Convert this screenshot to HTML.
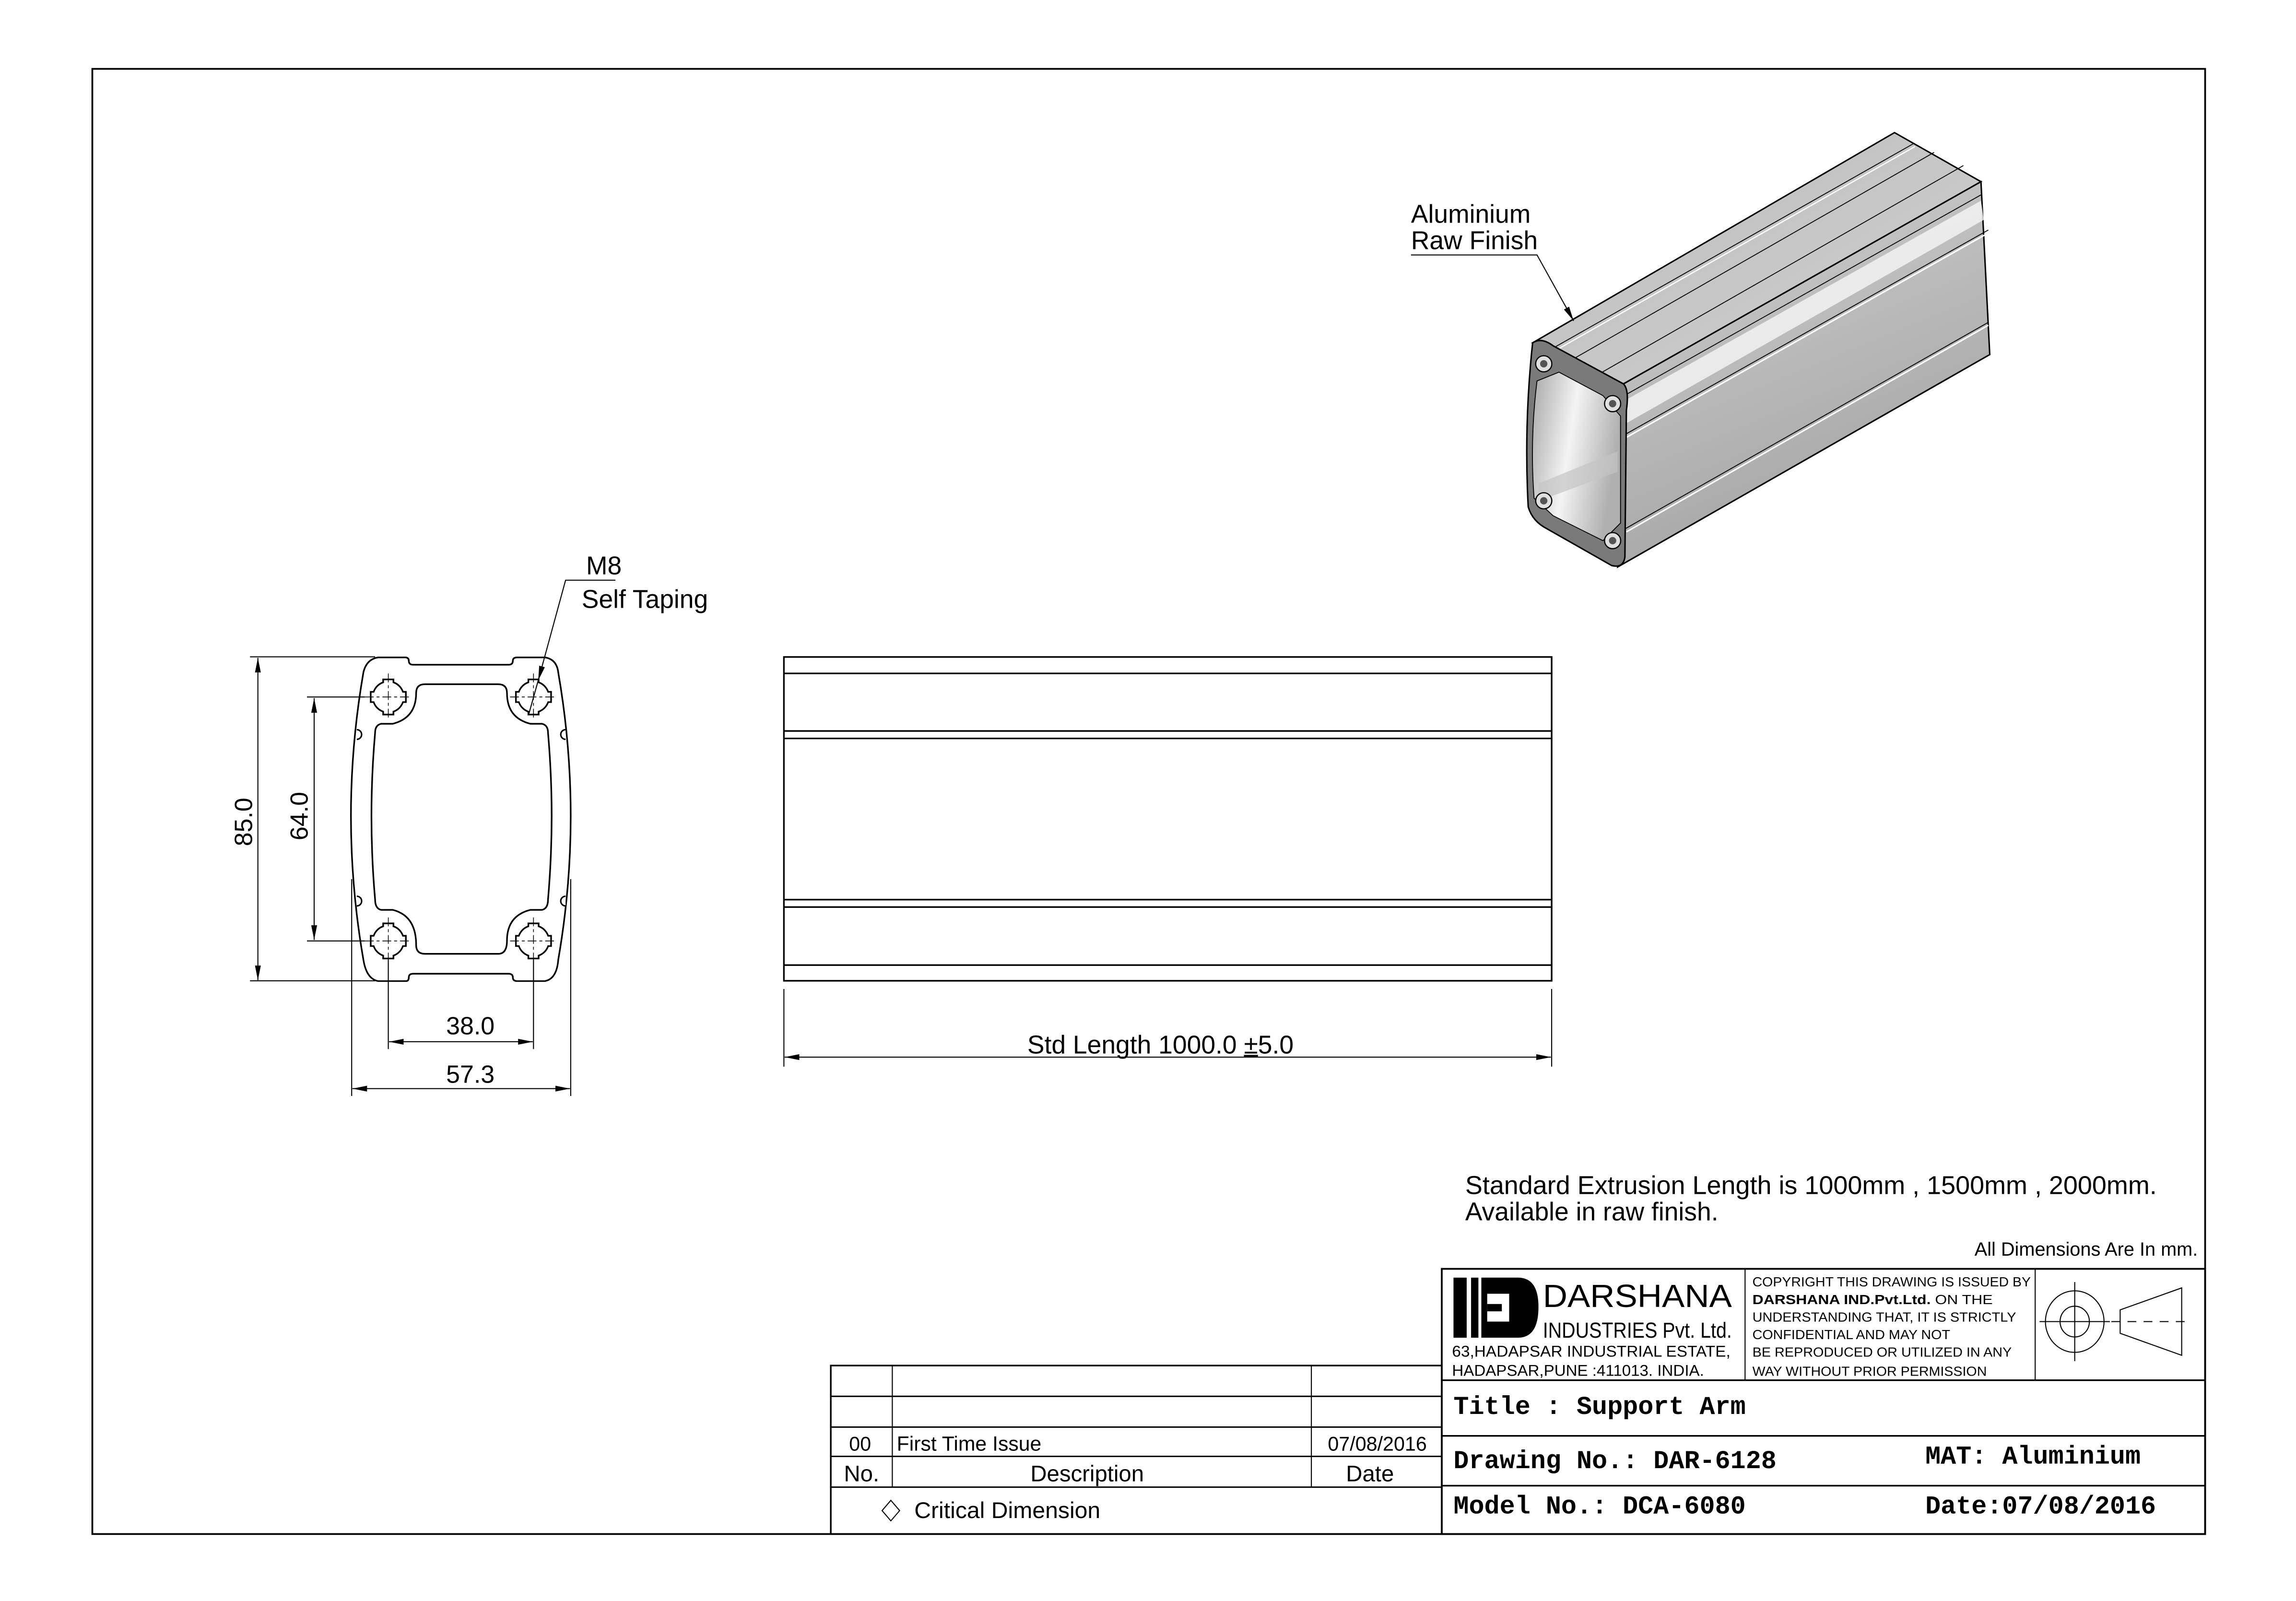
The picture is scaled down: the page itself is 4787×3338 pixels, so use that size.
<!DOCTYPE html>
<html><head><meta charset="utf-8"><style>
html,body{margin:0;padding:0;background:#fff}
svg{display:block}
text{font-family:"Liberation Sans",Arial,sans-serif;fill:#000}
.m{font-family:"Liberation Mono","DejaVu Sans Mono",monospace;font-weight:bold}
</style></head><body>
<svg width="4787" height="3338" viewBox="0 0 1567 1092.7" xmlns="http://www.w3.org/2000/svg">
<defs>
<marker id="ar" viewBox="0 0 10 4" refX="10" refY="2" markerWidth="10" markerHeight="4" markerUnits="userSpaceOnUse" orient="auto-start-reverse"><path d="M0,0 L10,2 L0,4 Z" fill="#000"/></marker>
<linearGradient id="gt" x1="0" y1="0" x2="1" y2="1"><stop offset="0" stop-color="#bdbdbd"/><stop offset="1" stop-color="#cfcfcf"/></linearGradient>
<linearGradient id="gs" x1="0" y1="0" x2="0.4" y2="1"><stop offset="0" stop-color="#d2d2d2"/><stop offset="1" stop-color="#a4a4a4"/></linearGradient>
<linearGradient id="gc" x1="0" y1="0" x2="1" y2="0.3"><stop offset="0" stop-color="#a8a8a8"/><stop offset="0.5" stop-color="#f4f4f4"/><stop offset="1" stop-color="#b0b0b0"/></linearGradient>
<path id="hole" d="M-3.5,-12 L3.5,-12 L3.5,-10 A10.5 10.5 0 0 1 10,-3.5 L12,-3.5 L12,3.5 L10,3.5 A10.5 10.5 0 0 1 3.5,10 L3.5,12 L-3.5,12 L-3.5,10 A10.5 10.5 0 0 1 -10,3.5 L-12,3.5 L-12,-3.5 L-10,-3.5 A10.5 10.5 0 0 1 -3.5,-10 Z" fill="none" stroke="#000" stroke-width="1.1"/>
<g id="cl" stroke="#000" stroke-width="0.5" stroke-dasharray="6,2,2,2"><line x1="-16" y1="0" x2="16" y2="0"/><line x1="0" y1="-16" x2="0" y2="16"/></g>
</defs>

<rect x="63" y="47" width="1442" height="1000" fill="none" stroke="#000" stroke-width="1.2"/>

<g fill="none" stroke="#000" stroke-width="1.1">
<path d="M258,448.7 L277,448.7 Q279,449 279,451 Q279,453.7 282,453.7 L347,453.7 Q350,453.7 350,451 Q350,448.7 353,448.7 L372,448.7 Q380,450 381,459 Q398,557 381,655 Q380,668 372,669.6 L353,669.6 Q350,669.6 350,667 Q350,664.6 347,664.6 L282,664.6 Q279,664.6 279,667 Q279,669.6 277,669.6 L258,669.6 Q250,668 248,655 Q231,557 248,459 Q250,450 258,448.7 Z"/>
<path d="M290,467 L340,467 Q346,467 346,473 Q346,490 362,494 L370,494 Q374,495 374,500 Q379,557 374,614 Q374,620 370,621 L362,621 Q346,625 346,642 Q346,651 340,651 L290,651 Q284,651 284,645 Q284,625 268,621 L260,621 Q256,620 256,614 Q251,557 256,500 Q256,495 260,494 L268,494 Q284,490 284,473 Q284,467 290,467 Z"/>
</g>
<g fill="#fff" stroke="#000" stroke-width="1">
<path d="M243.5,498 A3.3 3.3 0 1 1 243.5,504.6"/>
<path d="M243.5,611.7 A3.3 3.3 0 1 1 243.5,618.3"/>
<path d="M386,498 A3.3 3.3 0 1 0 386,504.6"/>
<path d="M386,611.7 A3.3 3.3 0 1 0 386,618.3"/>
</g>
<use href="#hole" x="265" y="475.7"/><use href="#hole" x="364.1" y="475.7"/>
<use href="#hole" x="265" y="642.2"/><use href="#hole" x="364.1" y="642.2"/>
<use href="#cl" x="265" y="475.7"/><use href="#cl" x="364.1" y="475.7"/>
<use href="#cl" x="265" y="642.2"/><use href="#cl" x="364.1" y="642.2"/>

<g stroke="#000" stroke-width="0.7" fill="none">
<line x1="170.6" y1="448.3" x2="256" y2="448.3"/>
<line x1="170.6" y1="669.4" x2="256" y2="669.4"/>
<line x1="176" y1="449" x2="176" y2="669" marker-start="url(#ar)" marker-end="url(#ar)"/>
<line x1="209.5" y1="475.7" x2="249" y2="475.7"/>
<line x1="209.5" y1="642.2" x2="249" y2="642.2"/>
<line x1="214.4" y1="476.5" x2="214.4" y2="641.5" marker-start="url(#ar)" marker-end="url(#ar)"/>
<line x1="265" y1="655" x2="265" y2="716"/>
<line x1="364.1" y1="655" x2="364.1" y2="716"/>
<line x1="265.5" y1="711" x2="363.6" y2="711" marker-start="url(#ar)" marker-end="url(#ar)"/>
<line x1="240" y1="600" x2="240" y2="748"/>
<line x1="389.5" y1="600" x2="389.5" y2="748"/>
<line x1="240.5" y1="743" x2="389" y2="743" marker-start="url(#ar)" marker-end="url(#ar)"/>
<polyline points="420,396 386,396 367.3,464.5" marker-end="url(#ar)"/>
<line x1="367.3" y1="464.5" x2="361" y2="487"/>
</g>
<text x="172" y="561" font-size="17" text-anchor="middle" transform="rotate(-90 172 561)">85.0</text>
<text x="210" y="557" font-size="17" text-anchor="middle" transform="rotate(-90 210 557)">64.0</text>
<text x="321" y="706" font-size="17" text-anchor="middle">38.0</text>
<text x="321" y="739" font-size="17" text-anchor="middle">57.3</text>
<text x="400" y="392" font-size="17.5">M8</text>
<text x="397" y="415" font-size="17.5">Self Taping</text>

<g stroke="#000" stroke-width="1.1" fill="none">
<rect x="535" y="448.4" width="524" height="221"/>
<line x1="535" y1="459.6" x2="1059" y2="459.6"/>
<line x1="535" y1="498.9" x2="1059" y2="498.9"/>
<line x1="535" y1="504" x2="1059" y2="504"/>
<line x1="535" y1="614" x2="1059" y2="614"/>
<line x1="535" y1="619.1" x2="1059" y2="619.1"/>
<line x1="535" y1="658.7" x2="1059" y2="658.7"/>
</g>
<g stroke="#000" stroke-width="0.7">
<line x1="535" y1="675" x2="535" y2="728"/>
<line x1="1059" y1="675" x2="1059" y2="728"/>
<line x1="535.5" y1="721.5" x2="1058.5" y2="721.5" marker-start="url(#ar)" marker-end="url(#ar)"/>
</g>
<text x="792" y="719" font-size="17.5" text-anchor="middle">Std Length 1000.0 <tspan text-decoration="underline">±</tspan>5.0</text>

<g stroke="#000" stroke-width="1">
<polygon points="1046,234 1293,90.5 1352,124 1108,262" fill="url(#gt)"/>
<polygon points="1108,262 1352,124 1358,242 1104,387" fill="url(#gs)"/>
</g>
<g stroke="#000" stroke-width="0.6" fill="none">
<line x1="1061" y1="237" x2="1306" y2="98"/>
<line x1="1072" y1="246" x2="1320" y2="104"/>
<line x1="1090" y1="256" x2="1340" y2="113"/>
<line x1="1105" y1="272" x2="1352" y2="133"/>
<line x1="1109" y1="296.6" x2="1357" y2="157"/>
<line x1="1109" y1="361" x2="1357" y2="220"/>
</g>
<polygon points="1106,275 1352,137 1354,150 1108,290" fill="#f6f6f6" opacity="0.8"/>
<line x1="1110" y1="298.5" x2="1357" y2="159" stroke="#fff" stroke-width="1"/>
<line x1="1110" y1="363" x2="1357" y2="222" stroke="#fff" stroke-width="1"/>
<line x1="1062" y1="239" x2="1307" y2="100" stroke="#fff" stroke-width="0.8"/>
<path d="M1046,234 Q1052,230 1060,236 L1108,262 Q1112,266 1110,280 L1109,380 Q1108,388 1100,386 L1056,361 Q1046,356 1043,346 Q1040,290 1046,234 Z" fill="#7a7a7a" stroke="#000" stroke-width="1"/>
<path d="M1049,260 L1064,254 L1094,270 L1106,284 L1106,357 L1094,369 L1060,352 L1047,340 Q1044,300 1049,260 Z" fill="url(#gc)" stroke="#000" stroke-width="0.6"/>
<polygon points="1050,330 1104,308 1104,322 1050,342" fill="#c4c4c4" opacity="0.7"/>
<g fill="#e0e0e0" stroke="#000" stroke-width="0.8">
<circle cx="1053.6" cy="248.3" r="5.5"/><circle cx="1100.6" cy="275.5" r="5.5"/>
<circle cx="1053.6" cy="341.8" r="5.5"/><circle cx="1100.6" cy="369" r="5.5"/>
</g>
<g fill="#555"><circle cx="1053.6" cy="248.3" r="2.5"/><circle cx="1100.6" cy="275.5" r="2.5"/><circle cx="1053.6" cy="341.8" r="2.5"/><circle cx="1100.6" cy="369" r="2.5"/></g>
<g stroke="#000" stroke-width="0.7" fill="none">
<polyline points="963,174 1049,174 1074,219" marker-end="url(#ar)"/>
</g>
<text x="963" y="152" font-size="17.5">Aluminium</text>
<text x="963" y="170" font-size="17.5">Raw Finish</text>

<text x="1000" y="815" font-size="17.5" textLength="472" lengthAdjust="spacingAndGlyphs">Standard Extrusion Length is 1000mm , 1500mm , 2000mm.</text>
<text x="1000" y="833" font-size="17.5">Available in raw finish.</text>
<text x="1500" y="857" font-size="13" text-anchor="end">All Dimensions Are In mm.</text>

<g stroke="#000" fill="none">
<rect x="567" y="932" width="417" height="115" stroke-width="1.1"/>
<line x1="567" y1="953" x2="984" y2="953" stroke-width="1"/>
<line x1="567" y1="974" x2="984" y2="974" stroke-width="1"/>
<line x1="567" y1="994" x2="984" y2="994" stroke-width="1"/>
<line x1="567" y1="1015" x2="984" y2="1015" stroke-width="1"/>
<line x1="609" y1="932" x2="609" y2="1015" stroke-width="0.7"/>
<line x1="895" y1="932" x2="895" y2="1015" stroke-width="0.7"/>
<polygon points="608,1024 614,1031 608,1038 602,1031" stroke-width="0.7"/>
</g>
<text x="587" y="990" font-size="13.5" text-anchor="middle">00</text>
<text x="612" y="990" font-size="14">First Time Issue</text>
<text x="940" y="990" font-size="13.5" text-anchor="middle">07/08/2016</text>
<text x="588" y="1011" font-size="15.5" text-anchor="middle">No.</text>
<text x="742" y="1011" font-size="15.5" text-anchor="middle">Description</text>
<text x="935" y="1011" font-size="15.5" text-anchor="middle">Date</text>
<text x="624" y="1036" font-size="15.5" textLength="127" lengthAdjust="spacingAndGlyphs">Critical Dimension</text>

<g stroke="#000" fill="none">
<rect x="984" y="866" width="521" height="181" stroke-width="1.2"/>
<line x1="984" y1="942" x2="1505" y2="942" stroke-width="1.1"/>
<line x1="984" y1="980" x2="1505" y2="980" stroke-width="1.1"/>
<line x1="984" y1="1014" x2="1505" y2="1014" stroke-width="1.1"/>
<line x1="1191" y1="866" x2="1191" y2="942" stroke-width="0.7"/>
<line x1="1389" y1="866" x2="1389" y2="942" stroke-width="0.7"/>
</g>
<rect x="992" y="872" width="9" height="41" fill="#000"/>
<rect x="1004" y="872" width="5" height="41" fill="#000"/>
<path d="M1011,872 L1036,872 Q1050,872 1050,892 Q1050,913 1036,913 L1011,913 Z" fill="#000"/>
<rect x="1015" y="883" width="15" height="19" fill="#fff"/>
<rect x="1015" y="890" width="10" height="5" fill="#000"/>
<text x="1053" y="892" font-size="22" textLength="129" lengthAdjust="spacingAndGlyphs">DARSHANA</text>
<text x="1053" y="913" font-size="15" textLength="129" lengthAdjust="spacingAndGlyphs">INDUSTRIES Pvt. Ltd.</text>
<text x="991" y="926" font-size="10.5" textLength="190" lengthAdjust="spacingAndGlyphs">63,HADAPSAR INDUSTRIAL ESTATE,</text>
<text x="991" y="939" font-size="10.5" textLength="172" lengthAdjust="spacingAndGlyphs">HADAPSAR,PUNE :411013. INDIA.</text>
<g font-size="9">
<text x="1196" y="878" textLength="190" lengthAdjust="spacingAndGlyphs">COPYRIGHT THIS DRAWING IS ISSUED BY</text>
<text x="1196" y="890" textLength="164" lengthAdjust="spacingAndGlyphs"><tspan font-weight="bold">DARSHANA IND.Pvt.Ltd.</tspan> ON THE</text>
<text x="1196" y="902" textLength="180" lengthAdjust="spacingAndGlyphs">UNDERSTANDING THAT, IT IS STRICTLY</text>
<text x="1196" y="914" textLength="135" lengthAdjust="spacingAndGlyphs">CONFIDENTIAL AND MAY NOT</text>
<text x="1196" y="926" textLength="177" lengthAdjust="spacingAndGlyphs">BE REPRODUCED OR UTILIZED IN ANY</text>
<text x="1196" y="939" textLength="160" lengthAdjust="spacingAndGlyphs">WAY WITHOUT PRIOR PERMISSION</text>
</g>
<g stroke="#000" fill="none" stroke-width="0.7">
<ellipse cx="1416" cy="902" rx="20" ry="21"/>
<ellipse cx="1416" cy="902" rx="10" ry="10.5"/>
<line x1="1392" y1="902" x2="1440" y2="902"/>
<line x1="1416" y1="875" x2="1416" y2="929"/>
<polygon points="1447,894 1489,879 1489,925 1447,910"/>
<line x1="1441" y1="902" x2="1495" y2="902" stroke-dasharray="6,5"/>
</g>
<text x="992" y="965" font-size="17.5" class="m">Title : Support Arm</text>
<text x="992" y="1002" font-size="17.5" class="m">Drawing No.: DAR-6128</text>
<text x="1314" y="999" font-size="17.5" class="m">MAT: Aluminium</text>
<text x="992" y="1033" font-size="17.5" class="m">Model No.: DCA-6080</text>
<text x="1314" y="1033" font-size="17.5" class="m">Date:07/08/2016</text>
</svg>
</body></html>
